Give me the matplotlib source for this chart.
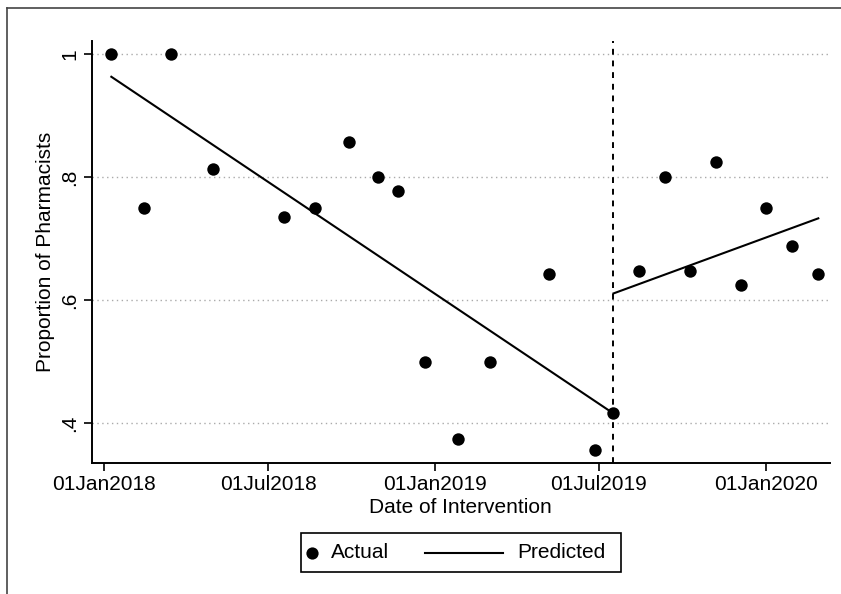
import matplotlib
matplotlib.use("Agg")
import matplotlib.pyplot as plt
import matplotlib.dates as mdates
from matplotlib.patches import Rectangle
from matplotlib.lines import Line2D
import pandas as pd

plt.rcParams['font.family'] = ['Liberation Sans', 'DejaVu Sans']

dates = ['2018-01-09', '2018-02-14', '2018-03-16', '2018-05-01', '2018-07-18',
         '2018-08-22', '2018-09-28', '2018-10-30', '2018-11-21', '2018-12-21',
         '2019-01-27', '2019-03-03', '2019-05-07', '2019-06-27', '2019-07-17',
         '2019-08-14', '2019-09-12', '2019-10-09', '2019-11-07', '2019-12-05',
         '2020-01-01', '2020-01-30', '2020-02-28']
actual = [1.0, 0.75, 1.0, 0.8125, 0.735, 0.75, 0.857, 0.8, 0.778, 0.5,
          0.375, 0.5, 0.643, 0.357, 0.417, 0.647, 0.8, 0.647, 0.824, 0.625,
          0.75, 0.688, 0.643]

intervention = '2019-07-17'
# fitted segments (start, end)
pre_dates = ['2018-01-09', '2019-07-17']
pre_pred = [0.963, 0.416]
post_dates = ['2019-07-17', '2020-02-28']
post_pred = [0.611, 0.733]

xticks = ['2018-01-01', '2018-07-01', '2019-01-01', '2019-07-01', '2020-01-01']
yticks = [0.4, 0.6, 0.8, 1.0]
ytick_labels = ['.4', '.6', '.8', '1']

W, H = 841, 594
FS = 15

d = pd.to_datetime(dates)

fig = plt.figure(figsize=(W / 100, H / 100), dpi=100)

# outer graph region frame (only top and left edges are inside the picture)
fx, fy = 7 / W, 1 - 8 / H
fig.add_artist(Line2D([fx, fx], [0, fy], color='#444444', linewidth=1.2))
fig.add_artist(Line2D([fx, 1], [fy, fy], color='#444444', linewidth=1.2))

ax = fig.add_axes([0.109, 0.221, 0.878, 0.7105])

for y in yticks:
    ax.axhline(y, color='#aaaaaa', linestyle=(0, (1, 2.5)), linewidth=1.0, zorder=1)

ax.axvline(pd.Timestamp(intervention), color='black', linestyle=(0, (3, 3)),
           linewidth=1.4, zorder=2)
ax.plot(pd.to_datetime(pre_dates), pre_pred, color='black', linewidth=1.5, zorder=3)
ax.plot(pd.to_datetime(post_dates), post_pred, color='black', linewidth=1.5, zorder=3)
ax.scatter(d, actual, s=80, color='black', zorder=4, linewidths=0)

ax.set_xlim(pd.Timestamp('2018-01-01') - pd.Timedelta(days=13.7),
            pd.Timestamp('2018-01-01') + pd.Timedelta(days=801))
ax.set_ylim(0.336, 1.0216)

ax.set_xticks(pd.to_datetime(xticks))
ax.xaxis.set_major_formatter(mdates.DateFormatter('%d%b%Y'))
ax.set_yticks(yticks)
ax.set_yticklabels(ytick_labels, rotation=90, va='center')

ax.tick_params(axis='both', labelsize=FS, length=6, width=1.2, direction='out', pad=3)

for s in ['top', 'right']:
    ax.spines[s].set_visible(False)
for s in ['left', 'bottom']:
    ax.spines[s].set_linewidth(1.4)

ax.set_xlabel('Date of Intervention', fontsize=FS, labelpad=3)
ax.set_ylabel('Proportion of Pharmacists', fontsize=FS, labelpad=4)

# legend box drawn in figure pixels, Stata-style layout
def px(x, y):
    return x / W, 1 - y / H

x0, y0 = px(301, 572)
x1, y1 = px(621, 533)
fig.patches.append(Rectangle((x0, y0), x1 - x0, y1 - y0, transform=fig.transFigure,
                             fill=False, edgecolor='black', linewidth=1.2))
ly = px(0, 552.5)[1]
fig.add_artist(Line2D([312 / W], [ly], marker='o', markersize=8.8, color='black',
                      markeredgewidth=0))
fig.text(331 / W, ly, 'Actual', fontsize=FS, va='center', ha='left')
fig.add_artist(Line2D([425 / W, 503 / W], [ly, ly], color='black', linewidth=1.5))
fig.text(517 / W, ly, 'Predicted', fontsize=FS, va='center', ha='left')

fig.savefig('out.png', dpi=100)
